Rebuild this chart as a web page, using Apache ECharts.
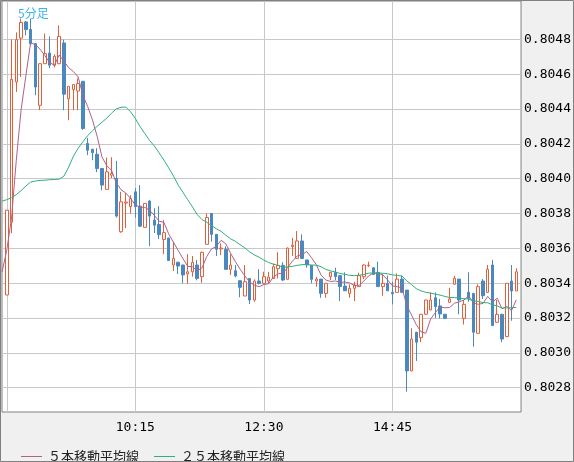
<!DOCTYPE html>
<html><head><meta charset="utf-8">
<script src="https://cdn.jsdelivr.net/npm/echarts@6/dist/echarts.min.js"></script>
<style>html,body{margin:0;padding:0;background:#f0f0f0}#c{width:574px;height:462px}</style>
</head><body><div id="c"></div>
<script>
const opens=[0.803332,0.80375,0.804555,0.804807,0.8049,0.804856,0.804775,0.804421,0.80466,0.804721,
0.804651,0.80466,0.804779,0.804458,0.804512,0.804503,0.804559,0.804202,0.804169,0.80414,
0.804058,0.803938,0.80402,0.804001,0.803695,0.80386,0.803839,0.803924,0.803842,0.80372,
0.803871,0.803762,0.803737,0.803651,0.803659,0.803504,0.80352,0.803504,0.803453,0.803465,
0.803504,0.803437,0.803623,0.8038,0.80368,0.803596,0.803594,0.803479,0.803471,0.803414,
0.803326,0.803427,0.803303,0.803412,0.803399,0.803412,0.803427,0.803483,0.803502,0.803422,
0.80361,0.803542,0.803642,0.803533,0.803502,0.803412,0.803423,0.803341,0.803437,0.803462,
0.803443,0.803383,0.803341,0.80337,0.80338,0.803437,0.8035,0.803488,0.803462,0.80338,
0.803399,0.803347,0.803347,0.803423,0.80336,0.802896,0.803118,0.803087,0.803221,0.803246,
0.803316,0.803269,0.803221,0.80329,0.803394,0.803423,0.803198,0.803347,0.803341,0.803112,
0.803412,0.803347,0.803504,0.803175,0.803221,0.803093,0.803412,0.803355];
const closes=[0.803819,0.80457,0.804798,0.804897,0.804856,0.804775,0.804526,0.80466,0.804718,0.804651,
0.804702,0.804817,0.804485,0.80453,0.80454,0.804546,0.804288,0.804163,0.804149,0.804058,
0.803963,0.804039,0.80403,0.803785,0.803867,0.803865,0.803885,0.803839,0.803727,0.803858,
0.803785,0.803733,0.803678,0.80369,0.80353,0.803542,0.803498,0.803447,0.803465,0.803519,
0.803427,0.803577,0.803777,0.80368,0.803594,0.803601,0.803479,0.803504,0.803441,0.803376,
0.803408,0.803303,0.803412,0.803399,0.803437,0.803435,0.803494,0.803502,0.803418,0.803601,
0.803618,0.803642,0.803542,0.803504,0.803422,0.803423,0.803341,0.803399,0.803462,0.803437,
0.80338,0.803356,0.80337,0.803389,0.803443,0.803504,0.803503,0.80345,0.80338,0.803399,
0.803356,0.803339,0.803423,0.803347,0.802896,0.803079,0.803061,0.803221,0.803303,0.803303,
0.803265,0.803223,0.803198,0.803309,0.803428,0.803303,0.803278,0.803313,0.803118,0.80338,
0.803328,0.80348,0.803156,0.803221,0.803079,0.803399,0.803355,0.803465];
const lows=[0.803332,0.803687,0.804498,0.804584,0.804823,0.804766,0.804479,0.804393,0.80466,0.804634,
0.804639,0.804657,0.804393,0.804335,0.804393,0.804393,0.80428,0.804135,0.804106,0.804037,
0.803934,0.803938,0.804003,0.803777,0.803689,0.803716,0.8038,0.803776,0.803722,0.80372,
0.803613,0.803687,0.803653,0.803566,0.80353,0.803469,0.803453,0.803399,0.803396,0.803437,
0.803416,0.803402,0.803623,0.803638,0.803556,0.803561,0.803479,0.803447,0.803433,0.803319,
0.803326,0.80328,0.803293,0.803392,0.803396,0.803399,0.803425,0.803427,0.803412,0.80342,
0.803556,0.80354,0.80354,0.803488,0.803399,0.803379,0.803316,0.803316,0.803418,0.803418,
0.803297,0.803356,0.803316,0.803297,0.80338,0.803423,0.803492,0.80345,0.80338,0.803328,
0.803356,0.803278,0.803347,0.803345,0.802777,0.802894,0.802953,0.803061,0.80322,0.803245,
0.8032,0.803197,0.803195,0.80329,0.80339,0.803221,0.803162,0.803293,0.803035,0.80311,
0.803309,0.803345,0.803155,0.803175,0.803061,0.80309,0.803184,0.803355];
const highs=[0.803819,0.8048,0.80484,0.804919,0.804905,0.804919,0.804777,0.804662,0.804833,0.804817,
0.804714,0.80488,0.804798,0.80453,0.80454,0.804575,0.80456,0.804234,0.80417,0.804175,
0.80406,0.804121,0.804123,0.804102,0.803924,0.803917,0.803905,0.803945,0.803963,0.80386,
0.803877,0.80383,0.803842,0.803762,0.80366,0.803638,0.803522,0.803505,0.803566,0.803556,
0.803533,0.80358,0.8038,0.8038,0.80368,0.803628,0.803611,0.803566,0.803504,0.803415,
0.803504,0.803427,0.803422,0.80348,0.803465,0.803465,0.803513,0.803577,0.80352,0.803605,
0.80366,0.803699,0.80368,0.803533,0.803503,0.803435,0.803423,0.8034,0.803465,0.803488,
0.803445,0.803462,0.803393,0.803408,0.80346,0.803508,0.803523,0.80349,0.803523,0.80345,
0.803443,0.803408,0.803456,0.803443,0.80336,0.803141,0.80312,0.803223,0.803305,0.803347,
0.803347,0.803309,0.803223,0.803373,0.803441,0.803425,0.803303,0.803462,0.803342,0.803393,
0.803423,0.803504,0.803533,0.803303,0.803223,0.8034,0.803504,0.803485];
const ma5Head=[0.803463,0.803589,0.803773,0.804106,0.804393];
const ma25Head=[0.803871,0.803879,0.803891,0.803908,0.803931,0.803957,0.80398,0.803986,0.80399,0.803991,
0.803994,0.803995,0.803997,0.804014,0.804066,0.804129,0.804175,0.804212,0.804247,0.804275,
0.804301,0.804324,0.804347,0.804376,0.804401];
const yTicks=[0.8028,0.8030,0.8032,0.8034,0.8036,0.8038,0.8040,0.8042,0.8044,0.8046,0.8048];
const xLabelTimes=['10:15','12:30','14:45'];
const xGridTimes=['8:00','10:15','12:30','14:45'];
const name5='５本移動平均線', name25='２５本移動平均線';

const times=[];
for(let m=7*60+55;m<=17*60;m+=5){times.push(Math.floor(m/60)+':'+String(m%60).padStart(2,'0'));}
const empty=['-','-','-','-'];
const candleData=[empty].concat(opens.map((o,i)=>[o,closes[i],lows[i],highs[i]]),[empty]);
function movingAvg(n, head){
  const out=head.slice();
  for(let j=n-1;j<closes.length;j++){
    let s=0; for(let k=j-n+1;k<=j;k++) s+=closes[k];
    out.push(+(s/n).toFixed(7));
  }
  out.push('-');
  return out;
}
const ma5=movingAvg(5,ma5Head), ma25=movingAvg(25,ma25Head);

const chart=echarts.init(document.getElementById('c'));
const monoFont='DejaVu Sans Mono';
chart.setOption({
  animation:false,
  backgroundColor:'#f0f0f0',
  title:{text:'5分足',left:13,top:2,textStyle:{color:'#3cb4f0',fontSize:12,fontWeight:'normal',fontFamily:'Noto Sans CJK JP'}},
  legend:{data:[name5,name25],left:16,top:445,icon:'rect',itemWidth:21,itemHeight:1,itemGap:15,selectedMode:false,
    textStyle:{color:'#222',fontSize:13,fontFamily:'Noto Sans CJK JP',padding:[0,0,0,1]}},
  grid:{left:2,right:51,top:1,bottom:50,show:true,backgroundColor:'#ffffff',borderColor:'#808080',borderWidth:1},
  graphic:[{type:'rect',silent:true,z:100,shape:{x:0.5,y:0.5,width:573,height:461},style:{fill:null,stroke:'#808080',lineWidth:1}}],
  xAxis:{type:'category',data:times,boundaryGap:false,
    axisLine:{show:false},axisTick:{show:false},
    axisLabel:{interval:(i,v)=>xLabelTimes.includes(v),color:'#000',fontFamily:monoFont,fontSize:13,margin:9},
    splitLine:{show:true,interval:(i,v)=>xGridTimes.includes(v),lineStyle:{color:'#c8c8c8',width:1}}},
  yAxis:{type:'value',position:'right',min:0.80266,max:0.80502,
    axisLine:{show:false},axisTick:{show:false,customValues:yTicks},
    axisLabel:{customValues:yTicks,formatter:v=>v.toFixed(4),color:'#000',fontFamily:monoFont,fontSize:13,margin:3},
    splitLine:{show:true,lineStyle:{color:'#c8c8c8',width:1}}},
  series:[
    {type:'candlestick',data:candleData,barWidth:3,
      itemStyle:{color:'#ffffff',color0:'#4a88c0',borderColor:'#e0603c',borderColor0:'#4a88c0',borderWidth:1}},
    {type:'line',name:name5,data:ma5,symbol:'none',lineStyle:{color:'#b0608c',width:1},itemStyle:{color:'#b0608c'}},
    {type:'line',name:name25,data:ma25,symbol:'none',lineStyle:{color:'#30b078',width:1},itemStyle:{color:'#30b078'}}
  ]
});
</script></body></html>
